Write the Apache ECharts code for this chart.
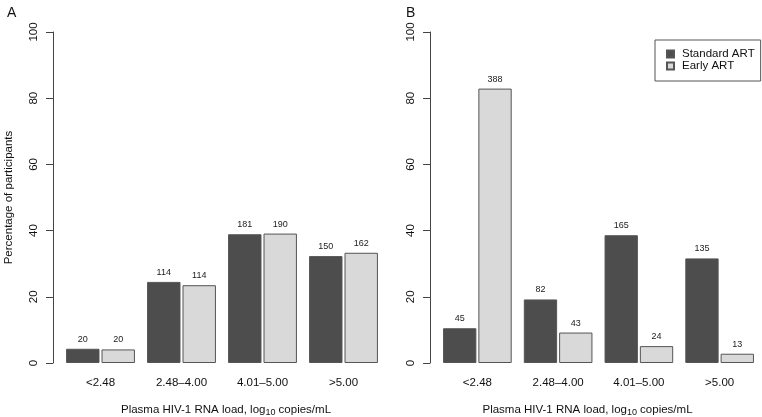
<!DOCTYPE html>
<html>
<head>
<meta charset="utf-8">
<script src="https://cdn.jsdelivr.net/npm/echarts@6/dist/echarts.min.js"></script>
<style>html,body{margin:0;padding:0;background:#fff}#c{width:762px;height:417px}</style>
</head>
<body>
<div id="c"></div>
<script>
// ---- data ----
const categories = ['<2.48', '2.48\u20134.00', '4.01\u20135.00', '>5.00'];
const seriesNames = ['Standard ART', 'Early ART'];
// Panel A: percentages of participants and counts shown above bars
const pctA_standard = [4.3, 24.5, 38.9, 32.3];
const pctA_early    = [4.1, 23.5, 39.1, 33.3];
const nA_standard   = [20, 114, 181, 150];
const nA_early      = [20, 114, 190, 162];
// Panel B
const pctB_standard = [10.5, 19.2, 38.6, 31.6];
const pctB_early    = [82.9, 9.2, 5.1, 2.8];
const nB_standard   = [45, 82, 165, 135];
const nB_early      = [388, 43, 24, 13];
const yTicks = [0, 20, 40, 60, 80, 100];

const FONT = 'Liberation Sans, Arial, Helvetica, sans-serif';
const DARK = '#4d4d4d', LIGHT = '#d9d9d9', EDGE = '#555555';

function xAxisFor(gridIndex, namePad) {
  return {
    type: 'category', gridIndex, data: categories,
    axisLine: {show: false}, axisTick: {show: false},
    axisLabel: {color: '#111', fontSize: 11.5, fontFamily: FONT, margin: 14},
    name: 'Plasma HIV-1 RNA load, log{sub|10} copies/mL',
    nameLocation: 'middle', nameGap: 39,
    nameTextStyle: {color: '#111', fontSize: 11.5, fontFamily: FONT, padding: namePad,
      rich: {sub: {fontSize: 9, fontFamily: FONT, color: '#111', padding: [6, 0, 0, 0]}}}
  };
}
function yAxisFor(gridIndex, withName) {
  return {
    type: 'value', gridIndex, min: 0, max: 100, interval: 20, offset: 7,
    axisLine: {show: true, lineStyle: {color: '#444', width: 1}},
    axisTick: {show: true, length: 7, lineStyle: {color: '#444'}},
    splitLine: {show: false},
    axisLabel: {color: '#111', fontSize: 11.5, fontFamily: FONT, rotate: 90, margin: 13,
      formatter: v => (yTicks.includes(v) ? String(v) : '')},
    name: withName ? 'Percentage of participants' : '',
    nameLocation: 'middle', nameGap: 38,
    nameTextStyle: {color: '#111', fontSize: 11.5, fontFamily: FONT}
  };
}
function barSeries(name, idx, data, counts, color) {
  return {
    type: 'bar', name, xAxisIndex: idx, yAxisIndex: idx, data,
    barCategoryGap: '15%', barGap: '6%',
    itemStyle: {color, borderColor: EDGE, borderWidth: 1},
    label: {show: true, position: 'top', distance: 5, fontSize: 9, fontFamily: FONT, color: '#222',
      formatter: p => String(counts[p.dataIndex])},
    emphasis: {disabled: true}, animation: false
  };
}

const chart = echarts.init(document.getElementById('c'), null, {renderer: 'canvas'});
chart.setOption({
  animation: false,
  backgroundColor: '#fff',
  title: [
    {text: 'A', left: 2, top: 1, textStyle: {fontSize: 14, fontWeight: 'normal', fontFamily: FONT, color: '#111'}},
    {text: 'B', left: 401, top: 1, textStyle: {fontSize: 14, fontWeight: 'normal', fontFamily: FONT, color: '#111'}}
  ],
  legend: {
    data: seriesNames, orient: 'vertical', left: 655, top: 40,
    borderColor: '#555', borderWidth: 1, padding: [8, 6, 9, 11],
    itemWidth: 7, itemHeight: 7, itemGap: 0, icon: 'rect',
    textStyle: {fontSize: 11.5, lineHeight: 11, fontFamily: FONT, color: '#111', padding: [0, 0, 0, 3]}
  },
  grid: [
    {left: 60, top: 32, width: 324, height: 331, outerBoundsMode: 'none', containLabel: false},
    {left: 437, top: 32, width: 323, height: 331, outerBoundsMode: 'none', containLabel: false}
  ],
  xAxis: [xAxisFor(0, [0, 0, 0, 8]), xAxisFor(1, [0, 22, 0, 0])],
  yAxis: [yAxisFor(0, true), yAxisFor(1, false)],
  series: [
    barSeries(seriesNames[0], 0, pctA_standard, nA_standard, DARK),
    barSeries(seriesNames[1], 0, pctA_early, nA_early, LIGHT),
    barSeries(seriesNames[0], 1, pctB_standard, nB_standard, DARK),
    barSeries(seriesNames[1], 1, pctB_early, nB_early, LIGHT)
  ]
});
</script>
</body>
</html>
